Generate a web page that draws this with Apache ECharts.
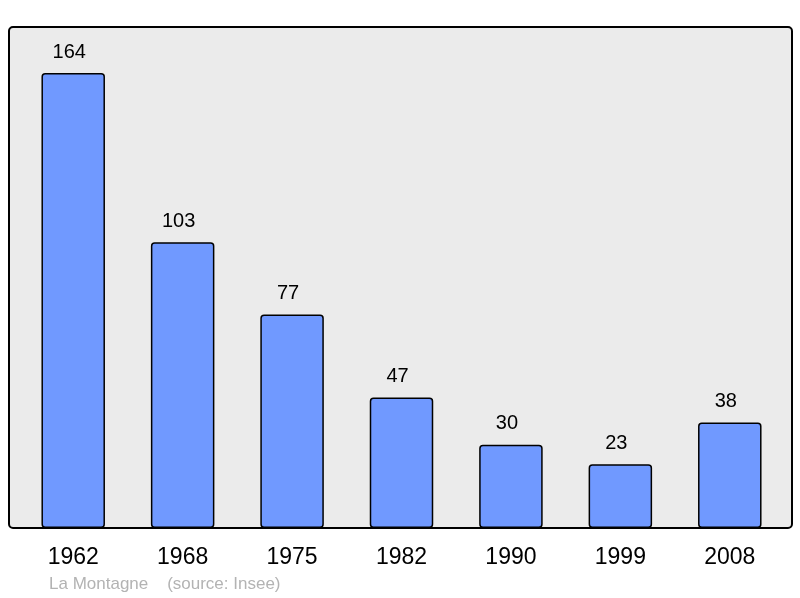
<!DOCTYPE html>
<html>
<head>
<meta charset="utf-8">
<script src="https://cdn.jsdelivr.net/npm/echarts@6/dist/echarts.min.js"></script>
<style>html,body{margin:0;padding:0;background:#fff}</style>
</head>
<body>
<div id="main" style="width:800px;height:598px"></div>
<script>
var years = ['1962', '1968', '1975', '1982', '1990', '1999', '2008'];
var population = [164, 103, 77, 47, 30, 23, 38];
var footer = 'La Montagne    (source: Insee)';

var myChart = echarts.init(document.getElementById('main'));

var option = {
    backgroundColor: '#ffffff',
    animation: false,
    graphic: [
        {
            type: 'rect',
            z: -10,
            shape: { x: 9, y: 27, width: 783, height: 501, r: 4 },
            style: { fill: '#ebebeb', stroke: '#000', lineWidth: 2 }
        },
        {
            type: 'text',
            left: 49,
            top: 576,
            style: { text: footer, fill: '#b3b3b3', font: '17px "Liberation Sans", Arial, sans-serif' }
        }
    ],
    grid: { left: 18.5, top: 27, width: 766, height: 501 },
    xAxis: {
        type: 'category',
        data: years,
        axisLine: { show: false },
        axisTick: { show: false },
        axisLabel: {
            margin: 18,
            color: '#000',
            fontSize: 23,
            fontFamily: '"Liberation Sans", Arial, sans-serif'
        }
    },
    yAxis: {
        type: 'value',
        min: 0,
        max: 180.6,
        show: false,
        splitLine: { show: false }
    },
    series: [
        {
            type: 'bar',
            data: population,
            barWidth: 63.5,
            itemStyle: {
                color: '#7099ff',
                borderColor: '#000',
                borderWidth: 1.5,
                borderRadius: 3
            },
            label: {
                show: true,
                position: 'top',
                distance: 11,
                offset: [-4, 0],
                color: '#000',
                fontSize: 20,
                fontFamily: '"Liberation Sans", Arial, sans-serif'
            }
        }
    ]
};

myChart.setOption(option);
</script>
</body>
</html>
